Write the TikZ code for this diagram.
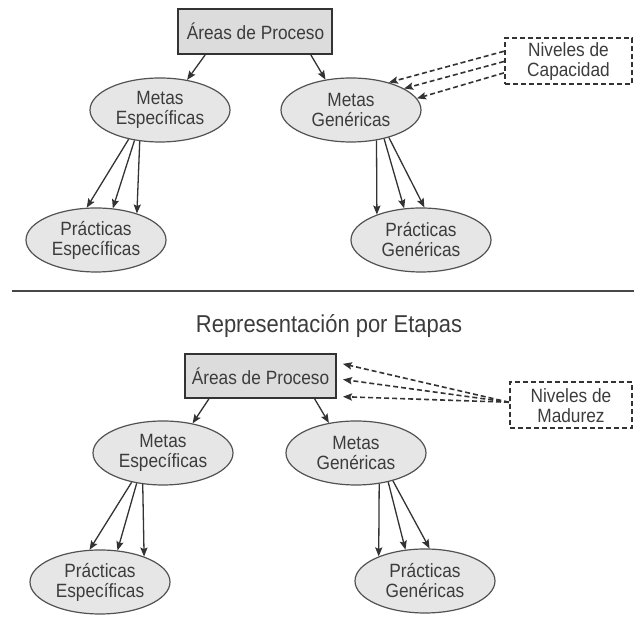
\documentclass[tikz,border=0pt]{standalone}
\usepackage{fontspec}
\setmainfont{Liberation Sans}[FakeStretch=0.9]
\usetikzlibrary{arrows.meta,shapes.geometric}
\definecolor{txt}{HTML}{3C3C3C}
\definecolor{boxfill}{HTML}{DCDCDC}
\definecolor{ellfill}{HTML}{E6E6E6}
\definecolor{edge}{HTML}{333333}
\newcommand{\nodefont}{\fontsize{9.6}{10}\selectfont}
\tikzset{
area/.style = {draw = edge, line width = 1pt, fill = boxfill, minimum width = 77pt, minimum height = 22.5pt, inner sep = 0pt, text = txt, font = \nodefont},
meta/.style = {ellipse, draw = edge!85, line width = 0.6pt, fill = ellfill, minimum width = 70pt, minimum height = 32pt, inner sep = 0pt, align = center, text = txt, font = \nodefont},
nivel/.style = {draw = edge, line width = 1pt, dash pattern = on 2.5pt off 1.5pt, minimum height = 23pt, inner sep = 0pt, align = center, text = txt, font = \nodefont},
arr/.style = {-{Stealth[length = 4.5pt, width = 3.6pt, inset = 0.8pt]}, edge, line width = 0.65pt},
darr/.style = {arr, dash pattern = on 2.5pt off 1.5pt, line width = 0.8pt}
}
\begin{document}
\begin{tikzpicture}[x=0.5pt,y=-0.5pt]
\useasboundingbox (0,0) rectangle (634,619);

\node [area] (ap1) at (255.5,31.5) {Áreas de Proceso};
\node [meta] (me1) at (160,110) {Metas\\Específicas};
\node [meta] (mg1) at (351,110) {Metas\\Genéricas};
\node [meta] (pe1) at (96,240) {Prácticas\\Específicas};
\node [meta] (pg1) at (421,240) {Prácticas\\Genéricas};
\node [nivel, minimum width = 63.5pt] (nc) at (568.5,61.5) {Niveles de\\Capacidad};

\draw [arr] (ap1.-155) -- (me1.48);
\draw [arr] (ap1.-23) -- (mg1.130);
\foreach \a/\b in {-137/106,-130/62,-123/33}{
\draw [arr] (me1.\a) -- (pe1.\b);
}
\foreach \a/\b in {-50/150,-41/118,-36/84}{
\draw [arr] (mg1.\a) -- (pg1.\b);
}
\foreach \a/\b in {171/36,180/22,-170/10}{
\draw [darr] (nc.\a) -- (mg1.\b);
}

\draw [edge!90, line width = 1.2pt] (12,291) -- (634,291);

\node [anchor = base, text = txt, font = \fontsize{12.2}{14}\selectfont] (title) at (329,332.5) {Representación por Etapas};

\node [area, minimum width = 75.5pt, minimum height = 22pt] (ap2) at (260.5,376) {Áreas de Proceso};
\node [meta] (me2) at (163,453) {Metas\\Específicas};
\node [meta] (mg2) at (356,453) {Metas\\Genéricas};
\node [meta] (pe2) at (100,582) {Prácticas\\Específicas};
\node [meta] (pg2) at (425,581) {Prácticas\\Genéricas};
\node [nivel, minimum width = 61pt] (nm) at (571,405.5) {Niveles de\\Madurez};

\draw [arr] (ap2.-156) -- (me2.45);
\draw [arr] (ap2.-23) -- (mg2.132);
\foreach \a/\b in {-137/108,-131/61,-123/30}{
\draw [arr] (me2.\a) -- (pe2.\b);
}
\foreach \a/\b in {-53/152,-42/122,-37/82}{
\draw [arr] (mg2.\a) -- (pg2.\b);
}
\foreach \b in {10,-2,-15}{
\draw [darr, shorten >= 3pt] (nm.177) -- (ap2.\b);
}
\end{tikzpicture}
\end{document}
